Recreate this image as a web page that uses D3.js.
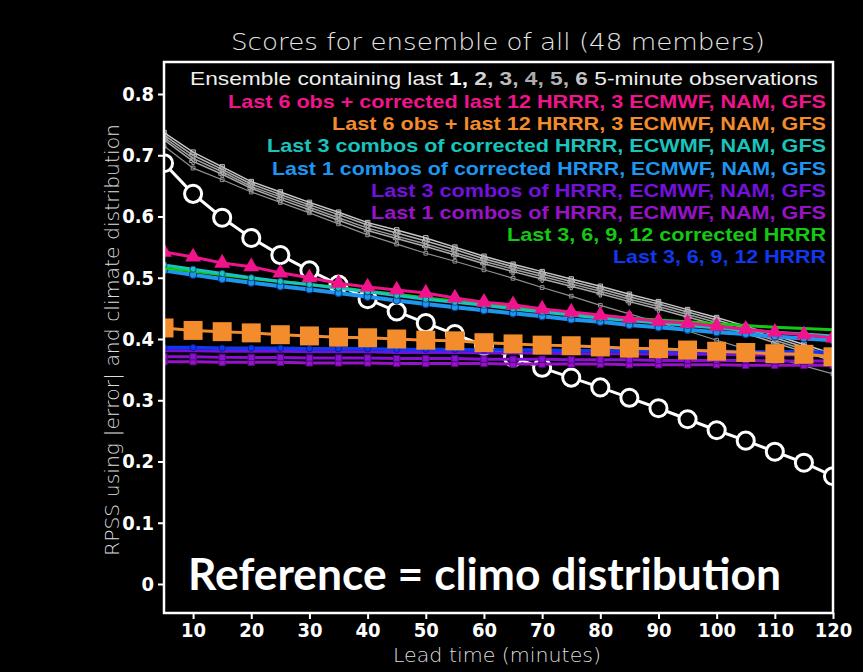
<!DOCTYPE html>
<html lang="en">
<head>
  <meta charset="UTF-8">
  <title>Scores for ensemble of all (48 members)</title>
  <script src="https://cdnjs.cloudflare.com/ajax/libs/d3/7.8.5/d3.min.js"></script>
  <style>
    body { margin: 0; background: #000; }
  </style>
</head>
<body>
  <svg></svg>
  <script>
    // lead times (minutes)
    const leadTimes = [5, 10, 15, 20, 25, 30, 35, 40, 45, 50, 55, 60, 65, 70, 75, 80, 85, 90, 95, 100, 105, 110, 115, 120];
    const xTicks = [10, 20, 30, 40, 50, 60, 70, 80, 90, 100, 110, 120];
    const yTicks = [0, 0.1, 0.2, 0.3, 0.4, 0.5, 0.6, 0.7, 0.8];

    // ensemble of last N obs
    const obsLast1 = [0.687, 0.637, 0.598, 0.565, 0.537, 0.512, 0.489, 0.465, 0.445, 0.426, 0.408, 0.389, 0.370, 0.353, 0.337, 0.321, 0.304, 0.287, 0.269, 0.251, 0.234, 0.216, 0.198, 0.176];
    const obsLast2 = [0.737, 0.705, 0.681, 0.657, 0.640, 0.623, 0.607, 0.590, 0.578, 0.565, 0.550, 0.535, 0.522, 0.510, 0.498, 0.486, 0.473, 0.461, 0.448, 0.435, 0.421, 0.406, 0.391, 0.376];
    const obsLast3 = [0.733, 0.700, 0.677, 0.653, 0.636, 0.619, 0.603, 0.586, 0.573, 0.560, 0.546, 0.531, 0.518, 0.506, 0.494, 0.482, 0.469, 0.457, 0.444, 0.431, 0.417, 0.402, 0.387, 0.372];
    const obsLast4 = [0.729, 0.695, 0.673, 0.649, 0.632, 0.615, 0.598, 0.581, 0.568, 0.555, 0.541, 0.527, 0.514, 0.502, 0.490, 0.478, 0.465, 0.453, 0.440, 0.427, 0.413, 0.398, 0.383, 0.368];
    const obsLast5 = [0.725, 0.690, 0.669, 0.646, 0.628, 0.611, 0.594, 0.577, 0.564, 0.551, 0.537, 0.523, 0.510, 0.498, 0.486, 0.474, 0.461, 0.449, 0.436, 0.423, 0.409, 0.394, 0.379, 0.364];
    const obsLast6 = [0.715, 0.679, 0.660, 0.640, 0.623, 0.606, 0.588, 0.570, 0.555, 0.540, 0.527, 0.513, 0.499, 0.484, 0.470, 0.455, 0.441, 0.427, 0.413, 0.398, 0.384, 0.370, 0.356, 0.343];

    const obsCorrAll = [0.542, 0.534, 0.524, 0.518, 0.508, 0.500, 0.491, 0.485, 0.480, 0.475, 0.467, 0.460, 0.456, 0.449, 0.444, 0.439, 0.434, 0.429, 0.426, 0.421, 0.416, 0.411, 0.407, 0.402];
    const obsAll = [0.418, 0.414, 0.412, 0.410, 0.407, 0.405, 0.403, 0.402, 0.400, 0.398, 0.397, 0.394, 0.392, 0.390, 0.389, 0.387, 0.385, 0.384, 0.382, 0.380, 0.378, 0.376, 0.375, 0.371];
    const corrCombos3 = [0.521, 0.514, 0.507, 0.500, 0.494, 0.489, 0.483, 0.477, 0.471, 0.465, 0.460, 0.455, 0.449, 0.444, 0.439, 0.434, 0.430, 0.426, 0.422, 0.418, 0.414, 0.411, 0.408, 0.405];
    const corrCombos1 = [0.512, 0.505, 0.498, 0.492, 0.486, 0.481, 0.475, 0.469, 0.463, 0.457, 0.452, 0.447, 0.442, 0.437, 0.432, 0.428, 0.423, 0.419, 0.415, 0.411, 0.408, 0.404, 0.401, 0.398];
    const combos3 = [0.381, 0.381, 0.380, 0.380, 0.380, 0.379, 0.379, 0.379, 0.378, 0.378, 0.378, 0.377, 0.377, 0.377, 0.376, 0.376, 0.376, 0.375, 0.375, 0.375, 0.374, 0.374, 0.374, 0.373];
    const combos3b = [0.371, 0.371, 0.370, 0.370, 0.370, 0.369, 0.369, 0.369, 0.368, 0.368, 0.368, 0.367, 0.367, 0.367, 0.366, 0.366, 0.366, 0.365, 0.365, 0.365, 0.365, 0.364, 0.364, 0.364];
    const combos1 = [0.363, 0.363, 0.362, 0.362, 0.362, 0.361, 0.361, 0.361, 0.360, 0.360, 0.360, 0.360, 0.359, 0.359, 0.359, 0.359, 0.358, 0.358, 0.358, 0.358, 0.357, 0.357, 0.357, 0.357];
    const hrrrCorr = [0.516, 0.511, 0.505, 0.499, 0.494, 0.489, 0.484, 0.478, 0.473, 0.467, 0.462, 0.457, 0.452, 0.447, 0.442, 0.438, 0.434, 0.431, 0.428, 0.425, 0.422, 0.419, 0.417, 0.415];
    const hrrr = [0.386, 0.386, 0.385, 0.385, 0.385, 0.384, 0.384, 0.384, 0.383, 0.383, 0.383, 0.382, 0.382, 0.382, 0.381, 0.381, 0.381, 0.380, 0.380, 0.380, 0.379, 0.379, 0.379, 0.378];

    const legendLabels = [
      'Last 6 obs + corrected last 12 HRRR, 3 ECMWF, NAM, GFS',
      'Last 6 obs + last 12 HRRR, 3 ECMWF, NAM, GFS',
      'Last 3 combos of corrected HRRR, ECWMF, NAM, GFS',
      'Last 1 combos of corrected HRRR, ECMWF, NAM, GFS',
      'Last 3 combos of HRRR, ECMWF, NAM, GFS',
      'Last 1 combos of HRRR, ECMWF, NAM, GFS',
      'Last 3, 6, 9, 12 corrected HRRR',
      'Last 3, 6, 9, 12 HRRR'
    ];
    const legendColors = ['#f0148c', '#f28c2c', '#18c4bc', '#1e96f0', '#7410dc', '#9812c8', '#14c814', '#1038f0'];
    const legendWidths = [598, 494, 559, 554, 455, 455, 319, 213];

    const W = 863, H = 672;
    const svg = d3.select('svg').attr('width', W).attr('height', H);
    svg.append('rect').attr('width', W).attr('height', H).attr('fill', '#000');

    const x = d3.scaleLinear().domain([5, 120]).range([164, 833]);
    const y = d3.scaleLinear().domain([0, 0.8]).range([584, 94]);
    const plotTop = 62, plotBottom = 613;

    svg.append('clipPath').attr('id', 'plot')
      .append('rect').attr('x', 164).attr('y', plotTop).attr('width', 669).attr('height', plotBottom - plotTop);

    const line = d3.line().x((d, i) => x(leadTimes[i])).y(d => y(d));

    const series = [
      { v: obsLast2, color: '#c8c8c8', w: 1.5, sym: d3.symbolSquare, size: 20 },
      { v: obsLast3, color: '#b4b4b4', w: 1.5, sym: d3.symbolCross, size: 25 },
      { v: obsLast4, color: '#a0a0a0', w: 1.5, sym: d3.symbolDiamond, size: 20 },
      { v: obsLast5, color: '#aaaaaa', w: 1.5, sym: d3.symbolCross, size: 25 },
      { v: obsLast6, color: '#909090', w: 1.2, sym: d3.symbolSquare, size: 14 },
      { v: obsLast1, color: '#ffffff', w: 3, sym: d3.symbolCircle, size: 230, fill: '#000', stroke: '#fff', sw: 3 },
      { v: combos1, color: '#9812c8', w: 3, sym: d3.symbolSquare, size: 40, fill: '#9812c8', stroke: '#5a0a80', sw: 1 },
      { v: combos3b, color: '#8a10d4', w: 3, sym: d3.symbolSquare, size: 40, fill: '#8a10d4', stroke: '#50087a', sw: 1 },
      { v: combos3, color: '#7410dc', w: 3 },
      { v: hrrr, color: '#1038f0', w: 3.5, sym: d3.symbolCircle, size: 30, fill: '#1038f0', stroke: '#0a1a80', sw: 1 },
      { v: corrCombos1, color: '#1e96f0', w: 4, sym: d3.symbolCircle, size: 40, fill: '#1e96f0', stroke: '#0a3c90', sw: 1.2 },
      { v: hrrrCorr, color: '#14c814', w: 3 },
      { v: corrCombos3, color: '#18c4bc', w: 3, sym: d3.symbolCircle, size: 30, fill: '#18c4bc', stroke: '#0a4a80', sw: 1 },
      { v: obsCorrAll, color: '#f0148c', w: 3, sym: d3.symbolTriangle, size: 110, fill: '#f0148c' },
      { v: obsAll, color: '#f28c2c', w: 3, sym: d3.symbolSquare, size: 360, fill: '#f28c2c' }
    ];

    const plot = svg.append('g').attr('clip-path', 'url(#plot)');

    series.forEach(s => {
      plot.append('path')
        .datum(s.v)
        .attr('d', line)
        .attr('fill', 'none')
        .attr('stroke', s.color)
        .attr('stroke-width', s.w);
      if (s.sym) {
        plot.selectAll(null)
          .data(s.v)
          .enter()
          .append('path')
          .attr('transform', (d, i) => `translate(${x(leadTimes[i])},${y(d)})`)
          .attr('d', d3.symbol().type(s.sym).size(s.size))
          .attr('fill', s.fill || 'none')
          .attr('stroke', s.stroke || (s.fill ? 'none' : s.color))
          .attr('stroke-width', s.sw || 1);
      }
    });

    // frame
    svg.append('rect')
      .attr('x', 164).attr('y', plotTop).attr('width', 669).attr('height', plotBottom - plotTop)
      .attr('fill', 'none').attr('stroke', '#fff').attr('stroke-width', 2.5);

    const tickFont = "'Liberation Sans Narrow', 'DejaVu Sans Condensed', sans-serif";

    const yAxis = svg.append('g')
      .attr('transform', 'translate(164,0)')
      .call(d3.axisLeft(y).tickValues(yTicks).tickSize(6).tickPadding(4).tickFormat(d => d));
    const xAxis = svg.append('g')
      .attr('transform', `translate(0,${plotBottom})`)
      .call(d3.axisBottom(x).tickValues(xTicks).tickSize(6).tickPadding(4));

    [yAxis, xAxis].forEach(a => {
      a.select('.domain').remove();
      a.selectAll('line').attr('stroke', '#fff').attr('stroke-width', 2);
      a.selectAll('text')
        .attr('fill', '#fff')
        .style('font-family', tickFont)
        .style('font-weight', 'bold')
        .style('font-size', '20px');
    });

    // title
    const thinFont = "'DejaVu Sans ExtraLight', 'DejaVu Sans', sans-serif";
    svg.append('text')
      .attr('x', 498).attr('y', 50)
      .attr('text-anchor', 'middle')
      .attr('textLength', 534).attr('lengthAdjust', 'spacingAndGlyphs')
      .attr('fill', '#e6e6e6')
      .style('font-family', thinFont).style('font-weight', 200).style('font-size', '23px')
      .text('Scores for ensemble of all (48 members)');

    svg.append('text')
      .attr('x', 497).attr('y', 662)
      .attr('text-anchor', 'middle')
      .attr('textLength', 208).attr('lengthAdjust', 'spacingAndGlyphs')
      .attr('fill', '#dddddd')
      .style('font-family', thinFont).style('font-weight', 200).style('font-size', '20px')
      .text('Lead time (minutes)');

    svg.append('text')
      .attr('transform', 'translate(119,340) rotate(-90)')
      .attr('text-anchor', 'middle')
      .attr('textLength', 432).attr('lengthAdjust', 'spacingAndGlyphs')
      .attr('fill', '#dddddd')
      .style('font-family', thinFont).style('font-weight', 200).style('font-size', '19px')
      .text('RPSS using |error| and climate distribution');

    // legend
    const legFont = "'Liberation Sans', Arial, sans-serif";
    const first = svg.append('text')
      .attr('x', 818).attr('y', 85)
      .attr('text-anchor', 'end')
      .attr('textLength', 628).attr('lengthAdjust', 'spacingAndGlyphs')
      .attr('fill', '#eeeeee')
      .style('font-family', legFont).style('font-size', '19px');
    first.append('tspan').text('Ensemble containing last ');
    const numShades = ['#ffffff', '#d4d4d4', '#bcbcbc', '#acacac', '#b4b4b4', '#c4c4c4'];
    numShades.forEach((c, i) => {
      first.append('tspan').attr('fill', c).style('font-weight', 'bold')
        .text((i + 1) + (i < 5 ? ', ' : ''));
    });
    first.append('tspan').text('  5-minute observations');

    svg.selectAll('text.leg')
      .data(legendLabels)
      .enter()
      .append('text')
      .attr('class', 'leg')
      .attr('x', 826)
      .attr('y', (d, i) => 108 + i * 22.2)
      .attr('text-anchor', 'end')
      .attr('textLength', (d, i) => legendWidths[i]).attr('lengthAdjust', 'spacingAndGlyphs')
      .attr('fill', (d, i) => legendColors[i])
      .style('font-family', legFont).style('font-weight', 'bold').style('font-size', '19px')
      .text(d => d);

    svg.append('text')
      .attr('x', 188).attr('y', 590)
      .attr('textLength', 593).attr('lengthAdjust', 'spacingAndGlyphs')
      .attr('fill', '#fff')
      .style('font-family', "Lato, 'Open Sans', sans-serif").style('font-weight', 'bold').style('font-size', '44px')
      .text('Reference = climo distribution');
  </script>
</body>
</html>
